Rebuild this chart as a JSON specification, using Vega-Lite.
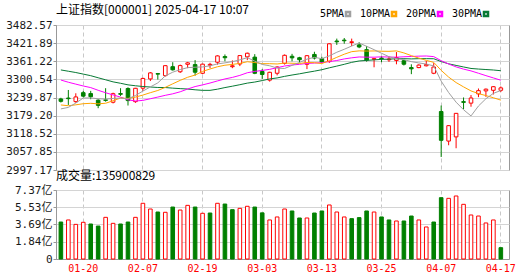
{
"$schema":"https://vega.github.io/schema/vega-lite/v6.json",
"padding":{"left":5,"top":3,"right":0,"bottom":0},
"background":"white",
"spacing":20,
"bounds":"flush",
"config":{"view":{"stroke":"#999"},"axis":{"labelFont":"DejaVu Sans Mono, Noto Sans CJK SC","labelFontSize":11,"labelColor":"#1a1a1a","domainColor":"#999","tickColor":"#999","gridColor":"#d4d4d4","labelOverlap":false}},
"datasets":{"k":[
{"d":"01-15","o":3235,"h":3239,"l":3223,"c":3227.1,"m5":3201.7,"m10":3214.9,"m20":3298.3,"m30":3332.1,"v":3.95,"vd":"d"},
{"d":"01-16","o":3238,"h":3265,"l":3215,"c":3236.0,"m5":3206.7,"m10":3212.3,"m20":3291.0,"m30":3327.8,"v":4.17,"vd":"u"},
{"d":"01-17","o":3226,"h":3254,"l":3222,"c":3241.8,"m5":3221.3,"m10":3215.3,"m20":3284.6,"m30":3323.5,"v":3.70,"vd":"u"},
{"d":"01-20","o":3256,"h":3262,"l":3240,"c":3244.4,"m5":3238.1,"m10":3219.1,"m20":3278.4,"m30":3318.2,"v":3.92,"vd":"u"},
{"d":"01-21","o":3253,"h":3262,"l":3234,"c":3242.6,"m5":3238.4,"m10":3220.4,"m20":3273.0,"m30":3312.9,"v":3.74,"vd":"d"},
{"d":"01-22","o":3231,"h":3234,"l":3204,"c":3213.6,"m5":3235.7,"m10":3218.7,"m20":3264.0,"m30":3305.9,"v":3.52,"vd":"d"},
{"d":"01-23","o":3232,"h":3271,"l":3226,"c":3230.2,"m5":3234.5,"m10":3220.6,"m20":3255.8,"m30":3299.1,"v":4.45,"vd":"u"},
{"d":"01-24","o":3224,"h":3256,"l":3220,"c":3252.6,"m5":3236.7,"m10":3229.0,"m20":3248.5,"m30":3292.2,"v":3.81,"vd":"u"},
{"d":"01-27","o":3253,"h":3271,"l":3245,"c":3250.6,"m5":3237.9,"m10":3238.0,"m20":3241.1,"m30":3287.5,"v":3.74,"vd":"d"},
{"d":"02-05","o":3270,"h":3274,"l":3213,"c":3229.5,"m5":3235.3,"m10":3236.9,"m20":3232.2,"m30":3282.2,"v":3.95,"vd":"d"},
{"d":"02-06","o":3226,"h":3272,"l":3222,"c":3270.7,"m5":3246.7,"m10":3241.2,"m20":3228.1,"m30":3279.2,"v":4.45,"vd":"u"},
{"d":"02-07","o":3271,"h":3306,"l":3262,"c":3303.7,"m5":3261.4,"m10":3248.0,"m20":3230.2,"m30":3276.6,"v":5.95,"vd":"u"},
{"d":"02-10","o":3302,"h":3325,"l":3295,"c":3322.2,"m5":3275.3,"m10":3256.0,"m20":3235.7,"m30":3275.0,"v":5.34,"vd":"u"},
{"d":"02-11","o":3320,"h":3322,"l":3300,"c":3318.1,"m5":3288.8,"m10":3263.4,"m20":3241.3,"m30":3273.4,"v":5.02,"vd":"d"},
{"d":"02-12","o":3313,"h":3348,"l":3310,"c":3346.4,"m5":3312.2,"m10":3273.8,"m20":3247.1,"m30":3273.2,"v":4.99,"vd":"u"},
{"d":"02-13","o":3343,"h":3358,"l":3330,"c":3332.5,"m5":3324.6,"m10":3285.7,"m20":3252.2,"m30":3271.2,"v":5.55,"vd":"d"},
{"d":"02-14","o":3326,"h":3350,"l":3322,"c":3346.7,"m5":3333.2,"m10":3297.3,"m20":3259.0,"m30":3269.6,"v":5.23,"vd":"u"},
{"d":"02-17","o":3351,"h":3359,"l":3338,"c":3355.8,"m5":3339.9,"m10":3307.6,"m20":3268.3,"m30":3268.2,"v":5.73,"vd":"u"},
{"d":"02-18","o":3350,"h":3365,"l":3313,"c":3324.5,"m5":3341.2,"m10":3315.0,"m20":3276.5,"m30":3265.7,"v":5.55,"vd":"d"},
{"d":"02-19","o":3321,"h":3353,"l":3318,"c":3351.5,"m5":3342.2,"m10":3327.2,"m20":3282.1,"m30":3263.8,"v":4.88,"vd":"u"},
{"d":"02-20","o":3348,"h":3356,"l":3338,"c":3350.8,"m5":3345.9,"m10":3335.3,"m20":3288.3,"m30":3263.8,"v":4.91,"vd":"d"},
{"d":"02-21","o":3358,"h":3381,"l":3350,"c":3379.1,"m5":3352.4,"m10":3342.8,"m20":3295.4,"m30":3267.7,"v":5.95,"vd":"u"},
{"d":"02-24","o":3377,"h":3384,"l":3361,"c":3373.0,"m5":3355.8,"m10":3347.9,"m20":3302.0,"m30":3273.1,"v":5.87,"vd":"d"},
{"d":"02-25","o":3343,"h":3364,"l":3338,"c":3346.0,"m5":3360.1,"m10":3350.7,"m20":3307.1,"m30":3277.7,"v":5.27,"vd":"d"},
{"d":"02-26","o":3352,"h":3381,"l":3345,"c":3380.2,"m5":3365.8,"m10":3354.0,"m20":3313.9,"m30":3282.7,"v":5.41,"vd":"u"},
{"d":"02-27","o":3376,"h":3390,"l":3365,"c":3388.1,"m5":3373.3,"m10":3359.6,"m20":3322.7,"m30":3288.0,"v":5.63,"vd":"u"},
{"d":"02-28","o":3375,"h":3385,"l":3318,"c":3320.9,"m5":3361.6,"m10":3357.0,"m20":3327.2,"m30":3291.6,"v":5.55,"vd":"d"},
{"d":"03-03","o":3327,"h":3335,"l":3302,"c":3316.9,"m5":3350.4,"m10":3353.1,"m20":3330.4,"m30":3296.6,"v":4.93,"vd":"d"},
{"d":"03-04","o":3298,"h":3326,"l":3293,"c":3324.2,"m5":3346.1,"m10":3353.1,"m20":3334.1,"m30":3302.0,"v":4.17,"vd":"u"},
{"d":"03-05","o":3321,"h":3344,"l":3314,"c":3342.0,"m5":3338.4,"m10":3352.1,"m20":3339.7,"m30":3305.4,"v":4.49,"vd":"u"},
{"d":"03-06","o":3354,"h":3384,"l":3350,"c":3381.1,"m5":3337.0,"m10":3355.2,"m20":3345.3,"m30":3310.6,"v":5.34,"vd":"u"},
{"d":"03-07","o":3378,"h":3386,"l":3361,"c":3372.6,"m5":3347.4,"m10":3354.5,"m20":3348.7,"m30":3315.1,"v":5.13,"vd":"d"},
{"d":"03-10","o":3373,"h":3376,"l":3357,"c":3366.2,"m5":3357.2,"m10":3353.8,"m20":3350.9,"m30":3319.2,"v":4.38,"vd":"d"},
{"d":"03-11","o":3351,"h":3382,"l":3335,"c":3379.8,"m5":3368.3,"m10":3357.2,"m20":3354.0,"m30":3323.8,"v":4.38,"vd":"u"},
{"d":"03-12","o":3384,"h":3393,"l":3367,"c":3371.9,"m5":3374.3,"m10":3356.4,"m20":3355.2,"m30":3328.1,"v":4.91,"vd":"d"},
{"d":"03-13","o":3370,"h":3376,"l":3355,"c":3358.7,"m5":3369.8,"m10":3353.4,"m20":3356.5,"m30":3332.9,"v":5.13,"vd":"d"},
{"d":"03-14","o":3360,"h":3421,"l":3356,"c":3419.6,"m5":3379.2,"m10":3363.3,"m20":3360.2,"m30":3339.2,"v":5.77,"vd":"u"},
{"d":"03-17","o":3429,"h":3437,"l":3416,"c":3426.4,"m5":3391.3,"m10":3374.3,"m20":3363.7,"m30":3345.0,"v":5.02,"vd":"u"},
{"d":"03-18","o":3432,"h":3439,"l":3420,"c":3429.8,"m5":3401.3,"m10":3384.8,"m20":3369.0,"m30":3351.0,"v":4.49,"vd":"u"},
{"d":"03-19","o":3424,"h":3437,"l":3412,"c":3426.4,"m5":3412.2,"m10":3393.3,"m20":3372.7,"m30":3357.5,"v":4.31,"vd":"d"},
{"d":"03-20","o":3416,"h":3425,"l":3405,"c":3409.0,"m5":3422.2,"m10":3396.0,"m20":3375.6,"m30":3362.2,"v":4.42,"vd":"d"},
{"d":"03-21","o":3400,"h":3412,"l":3360,"c":3364.8,"m5":3411.3,"m10":3395.3,"m20":3374.9,"m30":3364.2,"v":5.13,"vd":"d"},
{"d":"03-24","o":3368,"h":3372,"l":3341,"c":3370.0,"m5":3400.0,"m10":3395.7,"m20":3374.8,"m30":3365.8,"v":5.02,"vd":"u"},
{"d":"03-25","o":3372,"h":3378,"l":3358,"c":3370.0,"m5":3388.0,"m10":3394.7,"m20":3376.0,"m30":3367.5,"v":4.49,"vd":"d"},
{"d":"03-26","o":3366,"h":3378,"l":3359,"c":3368.7,"m5":3376.5,"m10":3394.4,"m20":3375.4,"m30":3368.3,"v":4.17,"vd":"d"},
{"d":"03-27","o":3364,"h":3392,"l":3351,"c":3373.8,"m5":3369.5,"m10":3395.9,"m20":3374.7,"m30":3369.6,"v":4.06,"vd":"u"},
{"d":"03-28","o":3363,"h":3366,"l":3347,"c":3351.3,"m5":3366.8,"m10":3389.1,"m20":3376.2,"m30":3369.8,"v":4.06,"vd":"d"},
{"d":"03-31","o":3340,"h":3351,"l":3318,"c":3335.8,"m5":3359.9,"m10":3380.0,"m20":3377.2,"m30":3369.1,"v":4.59,"vd":"d"},
{"d":"04-01","o":3340,"h":3351,"l":3338,"c":3348.4,"m5":3355.6,"m10":3371.8,"m20":3378.3,"m30":3369.9,"v":4.17,"vd":"u"},
{"d":"04-02","o":3346,"h":3362,"l":3344,"c":3350.1,"m5":3351.9,"m10":3364.2,"m20":3378.8,"m30":3369.9,"v":3.42,"vd":"u"},
{"d":"04-03","o":3321,"h":3355,"l":3318,"c":3342.0,"m5":3345.5,"m10":3357.5,"m20":3376.8,"m30":3369.6,"v":3.95,"vd":"d"},
{"d":"04-07","o":3193,"h":3213,"l":3040.7,"c":3096.6,"m5":3294.6,"m10":3330.7,"m20":3363.0,"m30":3360.2,"v":6.55,"vd":"d"},
{"d":"04-08","o":3094,"h":3147,"l":3080,"c":3145.6,"m5":3256.5,"m10":3308.2,"m20":3352.0,"m30":3352.6,"v":6.48,"vd":"u"},
{"d":"04-09","o":3108,"h":3188,"l":3070,"c":3186.8,"m5":3224.2,"m10":3289.9,"m20":3342.3,"m30":3347.3,"v":6.73,"vd":"u"},
{"d":"04-10","o":3226,"h":3240,"l":3201,"c":3223.6,"m5":3198.9,"m10":3275.4,"m20":3334.9,"m30":3342.1,"v":5.84,"vd":"u"},
{"d":"04-11","o":3221,"h":3248,"l":3209,"c":3238.2,"m5":3178.2,"m10":3261.9,"m20":3328.9,"m30":3337.1,"v":4.70,"vd":"u"},
{"d":"04-14","o":3252,"h":3270,"l":3241,"c":3262.8,"m5":3211.4,"m10":3253.0,"m20":3321.1,"m30":3335.1,"v":4.59,"vd":"u"},
{"d":"04-15","o":3262,"h":3270,"l":3242,"c":3267.7,"m5":3235.8,"m10":3246.2,"m20":3313.1,"m30":3333.5,"v":3.85,"vd":"u"},
{"d":"04-16","o":3264,"h":3278,"l":3250,"c":3276.0,"m5":3253.7,"m10":3239.0,"m20":3305.4,"m30":3331.9,"v":4.17,"vd":"u"},
{"d":"04-17","o":3264,"h":3277,"l":3258,"c":3272.0,"m5":3263.3,"m10":3231.1,"m20":3297.7,"m30":3329.5,"v":1.21,"vd":"d"}
]},
"vconcat":[
{
"width":453,"height":145,
"title":{"text":"上证指数[000001] 2025-04-17 10:07","anchor":"start","frame":"group","font":"Noto Sans CJK SC","fontSize":12,"fontWeight":"normal","color":"#000","offset":2},
"data":{"name":"k"},
"layer":[
{"mark":{"type":"rule","strokeWidth":1},
 "encoding":{
  "x":{"field":"d","type":"ordinal","bandPosition":0.5,"scale":{"paddingInner":0.35,"paddingOuter":0.55,"align":0.3},
       "axis":{"title":null,"values":["01-20","02-07","02-19","03-03","03-13","03-25","04-07","04-17"],"labels":false,"ticks":false,"domain":false,"grid":true,"gridDash":[4,3],"gridColor":"#c8c8c8","bandPosition":0.5}},
  "y":{"field":"l","type":"quantitative","scale":{"domain":[2997.17,3482.57],"nice":false,"zero":false},
       "axis":{"title":null,"values":[2997.17,3057.85,3118.52,3179.20,3239.87,3300.54,3361.22,3421.89,3482.57],"tickCount":9,"format":".2f","grid":true,"tickSize":3,"labelPadding":1,"domainColor":"#999","labelOverlap":false}},
  "y2":{"field":"h"},
  "color":{"condition":{"test":"datum.c>=datum.o","value":"#ff0000"},"value":"#008000"}}},
{"mark":{"type":"bar","width":3.6,"strokeWidth":1},
 "encoding":{
  "x":{"field":"d","type":"ordinal"},
  "y":{"field":"o","type":"quantitative"},
  "y2":{"field":"c"},
  "fill":{"condition":{"test":"datum.c>=datum.o","value":"#ffffff"},"value":"#008000"},
  "stroke":{"condition":{"test":"datum.c>=datum.o","value":"#ff0000"},"value":"#008000"}}},
{"mark":{"type":"line","strokeWidth":1},
 "encoding":{
  "x":{"field":"d","type":"ordinal","bandPosition":0.5},
  "y":{"field":"m30","type":"quantitative"},
  "color":{"datum":"30PMA","type":"nominal","scale":{"domain":["5PMA","10PMA","20PMA","30PMA"],"range":["#a0a0a0","#ffa500","#ff00ff","#087a35"]},
     "legend":{"orient":"none","legendX":287,"legendY":-16,"direction":"horizontal","title":null,"symbolType":"square","symbolSize":16,"symbolStrokeWidth":2.5,"labelFont":"DejaVu Sans Mono","labelFontSize":10,"labelColor":"#000","labelAlign":"right","labelOffset":-9,"columnPadding":4}}}},
{"mark":{"type":"line","strokeWidth":1},
 "encoding":{
  "x":{"field":"d","type":"ordinal","bandPosition":0.5},
  "y":{"field":"m20","type":"quantitative"},
  "color":{"datum":"20PMA","type":"nominal"}}},
{"mark":{"type":"line","strokeWidth":1},
 "encoding":{
  "x":{"field":"d","type":"ordinal","bandPosition":0.5},
  "y":{"field":"m10","type":"quantitative"},
  "color":{"datum":"10PMA","type":"nominal"}}},
{"mark":{"type":"line","strokeWidth":1},
 "encoding":{
  "x":{"field":"d","type":"ordinal","bandPosition":0.5},
  "y":{"field":"m5","type":"quantitative"},
  "color":{"datum":"5PMA","type":"nominal"}}}
]
},
{
"width":453,"height":69,
"title":{"text":"成交量:135900829","anchor":"start","frame":"group","font":"Noto Sans CJK SC","fontSize":12,"fontWeight":"normal","color":"#000","offset":1},
"data":{"name":"k"},
"mark":{"type":"bar","width":3.6,"strokeWidth":1},
"encoding":{
 "x":{"field":"d","type":"ordinal","scale":{"paddingInner":0.35,"paddingOuter":0.55,"align":0.3},
      "axis":{"title":null,"values":["01-20","02-07","02-19","03-03","03-13","03-25","04-07","04-17"],"labelColor":"#ff0000","labelFont":"DejaVu Sans Mono","labelFontSize":10,"labelAngle":0,"ticks":false,"domain":true,"domainColor":"#999","labelPadding":4,"grid":true,"gridDash":[4,3],"gridColor":"#c8c8c8","bandPosition":0.5}},
 "y":{"field":"v","type":"quantitative","scale":{"domain":[0,7.37],"nice":false},
      "axis":{"title":null,"values":[0,1.84,3.69,5.53,7.37],"tickCount":5,"labelExpr":"datum.value==0?'0':format(datum.value,'.2f')+'亿'","grid":true,"tickSize":3,"labelPadding":1,"labelOverlap":false}},
 "fill":{"condition":{"test":"datum.vd=='u'","value":"#ffffff"},"value":"#008000"},
 "stroke":{"condition":{"test":"datum.vd=='u'","value":"#ff0000"},"value":"#008000"}
}
}
]
}
